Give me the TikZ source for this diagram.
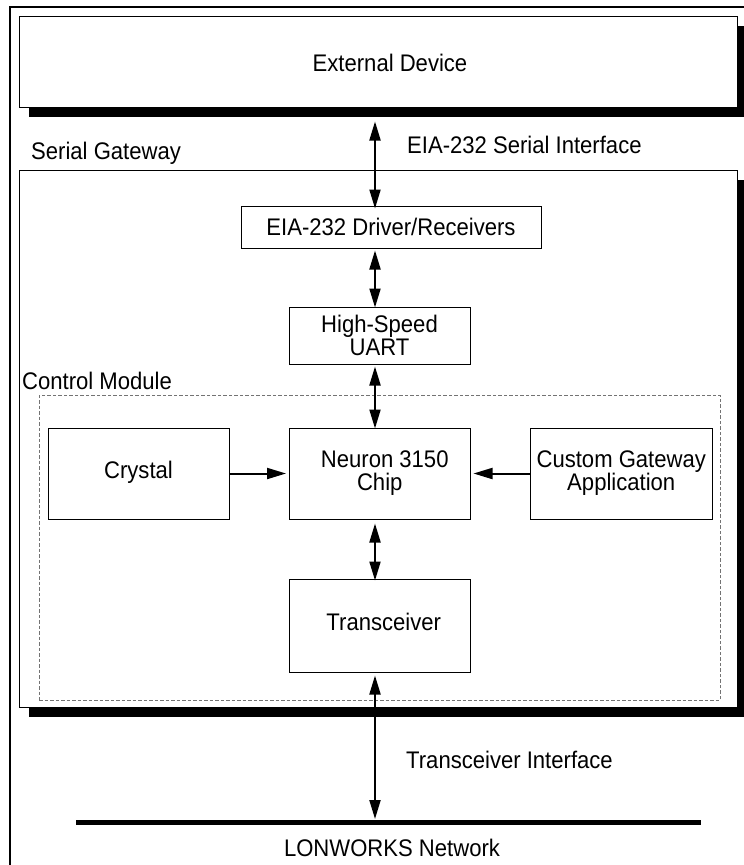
\documentclass[tikz,border=0pt]{standalone}
\usepackage{fontspec}
\setmainfont{Liberation Sans}[FakeStretch=0.92]
\usetikzlibrary{arrows.meta,calc}
\begin{document}
\begin{tikzpicture}[x=1pt,y=-1pt,
  every node/.style={font=\fontsize{24}{23}\selectfont, align=center},
  blk/.style={draw=black, line width=1pt, fill=white, inner sep=0pt, anchor=center},
  biarrow/.style={line width=2pt, {Triangle[length=19pt,width=11pt]}-{Triangle[length=19pt,width=11pt]}},
  uniarrow/.style={line width=2pt, -{Triangle[length=19pt,width=11pt]}},
  lbl/.style={anchor=west, inner sep=0pt},
  dashbox/.style={draw=black!55, line width=1pt, dash pattern=on 3.5pt off 2pt}
]
\clip (0,0) rectangle (744,865);
\fill[white] (0,0) rectangle (744,865);
% outer frame
\draw[line width=2.5pt] (10,870) -- (10,7) -- (750,7);
% External device
\fill (29,26) rectangle (747,117);
\node[blk, minimum width=718pt, minimum height=91pt] (ext) at (378,61.5) {};
\node (extlbl) at (390,63) {External Device};
% Serial gateway
\fill (29,180) rectangle (747,717);
\node[blk, minimum width=718pt, minimum height=537pt] (sg) at (378,438.5) {};
\node[lbl] (sglbl) at (31,153) {Serial Gateway};
\node[lbl] (eialbl) at (407,145) {EIA-232 Serial Interface};
% control module
\node[dashbox, minimum width=681pt, minimum height=305pt, inner sep=0pt] (cm) at (379.5,547.5) {};
\node[lbl] (cmlbl) at (22,381) {Control Module};
% blocks
\node[blk, minimum width=300pt, minimum height=42pt] (eia) at (391,227) {EIA-232 Driver/Receivers};
\node[blk, minimum width=181pt, minimum height=57pt] (uart) at (379.5,335.5) {High-Speed\\UART};
\node[blk, minimum width=181pt, minimum height=91pt] (crys) at (138.5,473.5) {\raisebox{8pt}{Crystal}};
\node[blk, minimum width=180.5pt, minimum height=91pt] (neur) at (379.75,473.5) {\hspace*{10pt}Neuron 3150\\Chip};
\node[blk, minimum width=181.5pt, minimum height=91pt] (cust) at (621.25,473.5) {Custom Gateway\\Application};
\node[blk, minimum width=180.5pt, minimum height=93pt] (trx) at (379.75,625.5) {\raisebox{7pt}{\hspace*{8pt}Transceiver}};
% network
\coordinate (lonL) at (76,822);
\coordinate (lonR) at (701,822);
\coordinate (lonT) at (375,819);
\draw[line width=5pt] (lonL) -- (lonR);
\node (lonlbl) at (392,848) {LONWORKS Network};
\node[lbl] (tilbl) at (406,760) {Transceiver Interface};
% connectors
\coordinate (ax) at (375,0);
\draw[biarrow] ([yshift=-14pt]ext.south -| ax) -- ([yshift=-3pt]eia.north -| ax);
\draw[biarrow] ([yshift=-2pt]eia.south -| ax) -- ([yshift=-1pt]uart.north -| ax);
\draw[biarrow] ([yshift=-2pt]uart.south -| ax) -- ([yshift=-1pt]neur.north -| ax);
\draw[biarrow] ([yshift=-4pt]neur.south -| ax) -- ([yshift=-2pt]trx.north -| ax);
\draw[biarrow] ([yshift=-3pt]trx.south -| ax) -- (lonT);
\draw[uniarrow] (crys.east) -- ([xshift=-3pt]neur.west);
\draw[uniarrow] (cust.west) -- ([xshift=3pt]neur.east);
\end{tikzpicture}
\end{document}
